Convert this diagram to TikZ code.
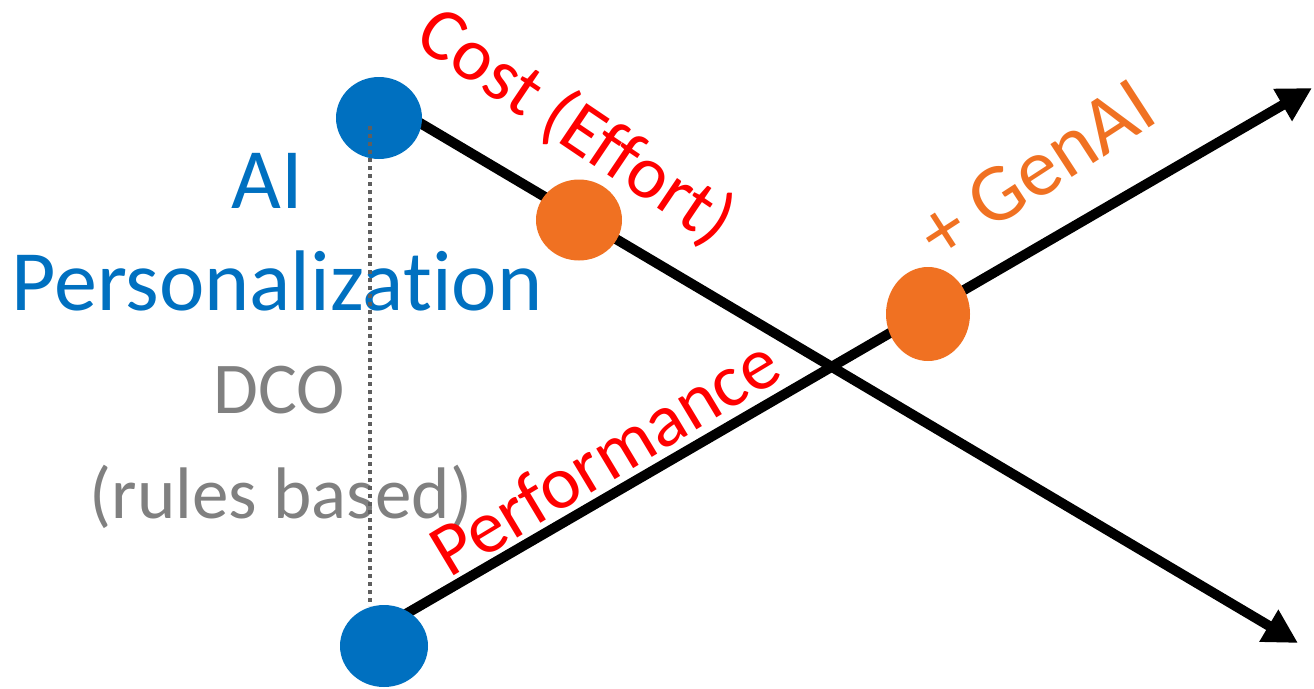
\documentclass[tikz,border=0pt]{standalone}
\usepackage{fontspec}
\setmainfont{Carlito}[Ligatures=NoCommon]
\usetikzlibrary{arrows.meta,shapes.geometric}
\definecolor{aiblue}{HTML}{0070C0}
\definecolor{genorange}{HTML}{F07122}
\definecolor{txtgray}{HTML}{808080}
\definecolor{dotgray}{HTML}{5F5F5F}
\tikzset{
  dot/.style={ellipse, fill=#1, draw=none, inner sep=0pt},
  axisline/.style={line width=10pt, -{Triangle[length=34pt,width=35pt]}},
  bluetext/.style={text=aiblue, inner sep=0pt, anchor=base, font=\fontsize{86}{86}\selectfont},
  graytext/.style={text=txtgray, inner sep=0pt, anchor=base, font=\fontsize{73}{73}\selectfont},
  redlabel/.style={text=red, inner sep=0pt, font=\fontsize{75}{75}\selectfont},
  orangelabel/.style={text=genorange, inner sep=0pt, font=\fontsize{82}{82}\selectfont},
  guide/.style={dotgray, line width=3.5pt, dash pattern=on 4pt off 4pt}
}
\begin{document}
\begin{tikzpicture}[x=1pt,y=-1pt]
\useasboundingbox (0,0) rectangle (1314,688);
% texts
\node[bluetext] (ai) at (267,208) {AI};
\node[bluetext] (pers) at (277,310) {Personalization};
\node[graytext] (dco) at (279,413) {DCO};
\node[graytext] (rules) at (281,518) {(rules\ based)};
% axes
\coordinate (cstart) at (388,104);
\coordinate (cend) at (1298,643);
\coordinate (pstart) at (392,622);
\coordinate (pend) at (1312,88);
\draw[axisline] (cstart) -- (cend);
\draw[axisline] (pstart) -- (pend);
% dots
\node[dot=aiblue, minimum width=86pt, minimum height=82pt] (b1) at (379,118) {};
\node[dot=aiblue, minimum width=88pt, minimum height=82pt] (b2) at (384,646) {};
\node[dot=genorange, minimum width=86pt, minimum height=81pt] (o1) at (579,220) {};
\node[dot=genorange, minimum width=84pt, minimum height=94pt] (o2) at (928,314) {};
% dotted guide
\coordinate (gtop) at (370,126);
\coordinate (gbot) at (370,606);
\draw[guide] (gtop) -- (gbot);
% labels
\node[redlabel, rotate=-34] (cost) at (576,127) {Cost (Effort)};
\node[redlabel, rotate=31] (perf) at (604,456) {Performance};
\node[orangelabel, rotate=33] (gen) at (1036,170) {+ GenAI};
\end{tikzpicture}
\end{document}
